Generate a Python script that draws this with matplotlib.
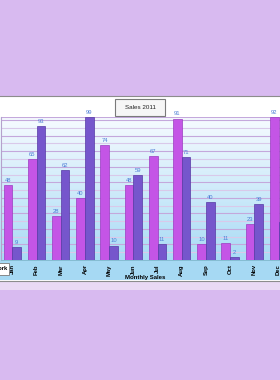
import numpy as np
import matplotlib
matplotlib.use("Agg")
from matplotlib import pyplot as plt
from matplotlib.patches import Rectangle
from matplotlib.colors import LinearSegmentedColormap

plt.rcParams['font.family'] = ['Liberation Sans', 'DejaVu Sans']

months = ["Jan", "Feb", "Mar", "Apr", "May", "Jun",
          "Jul", "Aug", "Sep", "Oct", "Nov", "Dec"]
sales_a = [48, 65, 28, 40, 74, 48, 67, 91, 10, 11, 23, 92]
sales_b = [9, 93, 62, 99, 10, 59, 11, 71, 40, 2, 39, 26]
title = "Sales 2011"
xlabel = "Monthly Sales"

W, H = 280, 380

def fx(px):
    return px / W

def fy(py):
    return 1 - py / H

fig = plt.figure(figsize=(2.8, 3.8), dpi=100)
fig.patch.set_facecolor('#d8baf0')

# panel + strip underneath
fig.patches.append(Rectangle((fx(-5), fy(290)), fx(300), (290 - 280) / H,
                             transform=fig.transFigure, facecolor='#e9d9f4',
                             edgecolor='none', zorder=-3))
fig.patches.append(Rectangle((fx(-5), fy(281)), fx(300), (281 - 96) / H,
                             transform=fig.transFigure, facecolor='white',
                             edgecolor='#8c8c8c', linewidth=0.8, zorder=-2))
# light blue band for the axis labels
fig.patches.append(Rectangle((fx(-5), fy(280)), fx(300), (280 - 260) / H,
                             transform=fig.transFigure, facecolor='#a6d9f3',
                             edgecolor='none', zorder=-1))

# gradient behind the plot
top, bot = 117, 260
gax = fig.add_axes([fx(0), fy(bot), fx(280), (bot - top) / H])
cmap = LinearSegmentedColormap.from_list('bg', ['#f6fbff', '#a9dbf5'])
grad = np.linspace(0, 1, 256).reshape(-1, 1)
gax.imshow(grad, aspect='auto', cmap=cmap, extent=[0, 1, 0, 1])
gax.axis('off')

ax = fig.add_axes([fx(0.5), fy(bot), fx(280), (bot - top) / H])
ax.patch.set_visible(False)
x = np.arange(len(months))
w = 0.36
ax.set_xlim(-0.488, 11.08)
ax.set_ylim(0, 92)

for v in range(5, 92, 5):
    c = '#c4a8dc' if v % 10 == 0 else '#d9c9ea'
    ax.axhline(v, color=c, linewidth=0.8, zorder=0)
ax.axhline(92, color='#c4a8dc', linewidth=0.8, zorder=0)

ax.bar(x - w / 2, sales_a, w, color='#c455e6', edgecolor='#9a3cc0',
       linewidth=0.5, zorder=2)
for xi, v in zip(x, sales_a):
    ax.annotate(str(v), (xi - w / 2, v), xytext=(0, 1.5),
                textcoords='offset points', ha='center', va='bottom',
                fontsize=4.2, color='#4f7fd6', clip_on=False)

ax2 = ax.twinx()
ax2.set_ylim(0, 99)
ax2.bar(x + w / 2, sales_b, w, color='#7656cc', edgecolor='#553aa4',
        linewidth=0.5, zorder=2)
for xi, v in zip(x, sales_b):
    ax2.annotate(str(v), (xi + w / 2, v), xytext=(0, 1.5),
                 textcoords='offset points', ha='center', va='bottom',
                 fontsize=4.2, color='#4f7fd6', clip_on=False)
ax2.set_yticks([])
for s in ax2.spines.values():
    s.set_visible(False)

for s in ['top', 'right']:
    ax.spines[s].set_visible(False)
ax.spines['left'].set_color('#b4a2cc')
ax.spines['left'].set_linewidth(0.8)
ax.spines['bottom'].set_color('#7fb8cc')
ax.spines['bottom'].set_linewidth(0.6)
ax.set_yticks([])
ax.set_xticks(x)
ax.set_xticklabels(months, rotation=90, fontsize=4.2, fontweight='bold')
ax.tick_params(axis='x', length=0, pad=3)

fig.text(fx(145), fy(277.5), xlabel, ha='center', va='center',
         fontsize=4.3, fontweight='bold')

# title box
fig.patches.append(Rectangle((fx(115), fy(116)), fx(50), 17 / H,
                             transform=fig.transFigure, facecolor='#f6f6f6',
                             edgecolor='#7a7a7a', linewidth=0.8, zorder=3))
fig.text(fx(140), fy(107.5), title, ha='center', va='center', fontsize=4.5,
         color='#222222', zorder=4)

# clipped legend-ish box on the left
fig.patches.append(Rectangle((fx(-30), fy(275)), fx(39), 12.5 / H,
                             transform=fig.transFigure, facecolor='white',
                             edgecolor='#7a7a7a', linewidth=0.6, zorder=3))
fig.text(fx(7.5), fy(269), "Network", ha='right', va='center', fontsize=4.2,
         fontweight='bold', zorder=4)

fig.savefig("out.png", dpi=100, facecolor=fig.get_facecolor())
